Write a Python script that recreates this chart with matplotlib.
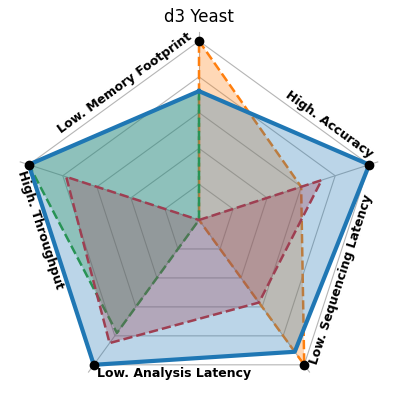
import matplotlib.pyplot as plt
import numpy as np

labels = ["Low. Memory Footprint", "High. Accuracy", "Low. Sequencing Latency",
          "Low. Analysis Latency", "High. Throughput"]
orange_vals = [1.0, 0.6, 1.0, 0.0, 0.0]
green_vals = [0.72, 0.0, 0.0, 0.78, 1.0]
red_vals = [0.0, 0.72, 0.57, 0.85, 0.78]
blue_vals = [0.72, 1.0, 0.91, 1.0, 1.0]
rings = [0.2, 0.4, 0.6, 0.8, 1.0]

angles = np.deg2rad(90 - 72 * np.arange(len(labels)))


def xy(vals):
    v = np.asarray(vals, dtype=float)
    x = v * np.cos(angles)
    y = v * np.sin(angles)
    return np.append(x, x[0]), np.append(y, y[0])


fig = plt.figure(figsize=(3.98, 4.2), dpi=100)
ax = fig.add_axes([0, 0, 1, 1])
ax.set_xlim(-199 / 179, 199 / 179)
ax.set_ylim(-200 / 179, 220 / 179)
ax.axis('off')

# grid
for r in rings:
    ax.plot(*xy([r] * 5), color='#b5b5b5', lw=0.8, zorder=1)
for a in angles:
    ax.plot([0, 1.05 * np.cos(a)], [0, 1.05 * np.sin(a)], color='#b5b5b5', lw=0.8, zorder=1)

series = [
    (orange_vals, '#ff7f0e', '--', 1.8),
    (green_vals, '#2ca02c', '--', 1.8),
    (red_vals, '#d62728', '--', 1.8),
    (blue_vals, '#1f77b4', '-', 3.0),
]
for vals, color, ls, lw in series:
    x, y = xy(vals)
    ax.fill(x, y, color=color, alpha=0.3, lw=0, zorder=2)
    ax.plot(x, y, color=color, ls=ls, lw=lw, zorder=2)

ax.plot(np.cos(angles), np.sin(angles), 'o', color='black', ms=6, zorder=5)

# labels along the pentagon edges
verts = np.column_stack([np.cos(angles), np.sin(angles)])
for k, lab in enumerate(labels):
    v = verts[k]
    w = verts[k - 1]
    e = (w - v) / np.linalg.norm(w - v)
    n = np.array([e[1], -e[0]])
    ang = np.degrees(np.arctan2(e[1], e[0]))
    if ang > 90 or ang < -90:
        rot = ang - 180 if ang > 0 else ang + 180
        ha = 'right'
    else:
        rot = ang
        ha = 'left'
    up = np.array([np.cos(np.radians(rot + 90)), np.sin(np.radians(rot + 90))])
    va = 'bottom' if up @ n > 0 else 'top'
    pos = v + 0.02 * e + 0.015 * n
    ax.text(pos[0], pos[1], lab, rotation=rot, ha=ha, va=va, rotation_mode='anchor',
            fontsize=9, fontweight='bold')

fig.text(0.5, 1 - 17 / 420, "d3 Yeast", ha='center', va='center', fontsize=12)

fig.savefig('out.png', dpi=100)
